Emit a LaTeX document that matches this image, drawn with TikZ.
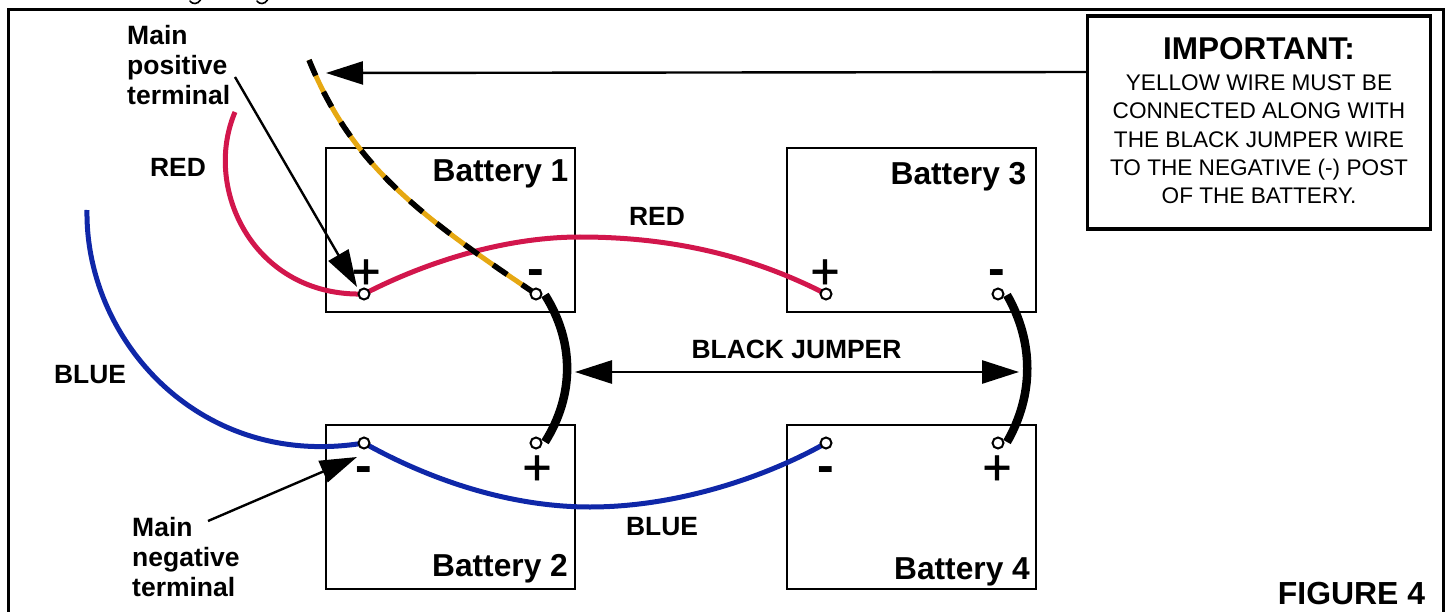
\documentclass[tikz,border=0pt]{standalone}
\usepackage{fontspec}
\setmainfont{Liberation Sans}
\newfontfamily\plusfont[FakeBold=1.2]{Liberation Sans}
\usetikzlibrary{arrows.meta,calc}
\definecolor{wred}{HTML}{D2164C}
\definecolor{wblue}{HTML}{0F27A8}
\definecolor{wyellow}{HTML}{E6A812}
\newcommand{\fsz}[2]{\fontsize{#1}{#2}\selectfont}
\tikzset{
  x=1pt,y=-1pt,
  battery/.style={draw=black,line width=1.8pt,minimum width=249pt,minimum height=164pt,inner sep=0pt},
  batlabel/.style={inner sep=0pt,font=\fsz{31.7}{36}\bfseries},
  wirelabel/.style={inner sep=0pt,font=\fsz{26.4}{30}\bfseries},
  sidelabel/.style={inner sep=0pt,anchor=north west,align=left,font=\fsz{26.5}{30.2}\bfseries},
  polarity/.style={inner sep=0pt,font=\fsz{50}{50}\bfseries},
  plusmark/.style={inner sep=0pt,font=\fsz{50}{50}\plusfont},
  terminal/.style={circle,draw=black,fill=white,line width=2pt,minimum size=11pt,inner sep=0pt},
  redwire/.style={draw=wred,line width=5pt},
  bluewire/.style={draw=wblue,line width=5pt},
  blackwire/.style={draw=black,line width=8.5pt},
  leader/.style={draw=black,line width=2.4pt,-{Triangle[length=37pt,width=23pt]}},
  notebox/.style={draw=black,line width=3.4pt,fill=white,minimum width=343pt,minimum height=213pt,inner sep=0pt,align=center,font=\fsz{22.6}{28.2}},
}
\begin{document}
\begin{tikzpicture}
\useasboundingbox (0,0) rectangle (1447,612);
% frame
\draw[line width=3pt,line join=miter] (8,612) -- (8,10) -- (1443,10) -- (1443,612);
% cropped line of text above the frame
\draw[line width=1.6pt,line cap=round] (190,1) .. controls (192,4.5) and (198,4.5) .. (200.5,0);
\draw[line width=1.6pt,line cap=round] (257,1) .. controls (259,4.5) and (265,4.5) .. (267.5,0);
% batteries
\node[battery] (bat1) at (450.5,230) {};
\node[battery] (bat3) at (911.5,230) {};
\node[battery] (bat2) at (450.5,507) {};
\node[battery] (bat4) at (911.5,507) {};
\node[batlabel] (lab1) at (500.5,174) {Battery 1};
\node[batlabel] (lab3) at (958.5,177) {Battery 3};
\node[batlabel] (lab2) at (500,569) {Battery 2};
\node[batlabel] (lab4) at (962,572) {Battery 4};
% polarity
\node[plusmark] (p1) at (366,274) {+};
\node[polarity] (m1) at (536,278) {-};
\node[plusmark] (p3) at (825,274) {+};
\node[polarity] (m3) at (997,278) {-};
\node[polarity] (m2) at (364,475) {-};
\node[plusmark] (p2) at (537,470) {+};
\node[polarity] (m4) at (826,475) {-};
\node[plusmark] (p4) at (997,470) {+};
% terminals and free ends
\coordinate (redend) at (235,112);
\coordinate (blueend) at (87,210);
\coordinate (yelend) at (309,60);
\coordinate (t1p) at (364,294);
\coordinate (t1m) at (536,294);
\coordinate (t3p) at (826,294);
\coordinate (t3m) at (998,294);
\coordinate (t2m) at (364,443);
\coordinate (t2p) at (536,443);
\coordinate (t4m) at (826,443);
\coordinate (t4p) at (998,443);
\coordinate (j1a) at (545,295);
\coordinate (j1b) at (545,442);
\coordinate (j2a) at (1007,295);
\coordinate (j2b) at (1007,442);
\coordinate (redtop) at (580,237);
\coordinate (bluelow) at (590,507);
% wires
\draw[redwire] (redend) .. controls (202,190) and (255,297) .. (t1p);
\draw[redwire] (t1p) .. controls (420,265) and (500,237) .. (redtop) .. controls (670,237) and (750,255) .. (t3p);
\draw[bluewire] (blueend) .. controls (85,340) and (200,470) .. (t2m);
\draw[bluewire] (t2m) .. controls (430,480) and (510,507) .. (bluelow) .. controls (680,507) and (770,475) .. (t4m);
\draw[blackwire] (j1a) .. controls (574.5,342) and (574.5,395) .. (j1b);
\draw[blackwire] (j2a) .. controls (1034,342) and (1034,395) .. (j2b);
\draw[draw=wyellow,line width=5pt] (yelend) .. controls (350,160) and (410,210) .. (t1m);
\draw[draw=black,line width=5.5pt,dash pattern=on 17pt off 18pt] (yelend) .. controls (350,160) and (410,210) .. (t1m);
\node[terminal] (n1p) at (t1p) {};
\node[terminal] (n1m) at (t1m) {};
\node[terminal] (n3p) at (t3p) {};
\node[terminal] (n3m) at (t3m) {};
\node[terminal] (n2m) at (t2m) {};
\node[terminal] (n2p) at (t2p) {};
\node[terminal] (n4m) at (t4m) {};
\node[terminal] (n4p) at (t4p) {};
% wire labels
\node[wirelabel] (redA) at (178,167.5) {RED};
\node[wirelabel] (redB) at (657,216.5) {RED};
\node[wirelabel] (blueA) at (90,374.5) {BLUE};
\node[wirelabel] (blueB) at (662,526.5) {BLUE};
\node[wirelabel] (jump) at (796.5,349.5) {BLACK JUMPER};
\node[sidelabel] (mainpos) at (127,25) {Main\\positive\\terminal};
\node[sidelabel] (mainneg) at (132,517) {Main\\negative\\terminal};
\node[inner sep=0pt,font=\fsz{31.9}{36}\bfseries] (fig) at (1351.5,594) {FIGURE 4};
% note
\node[notebox] (note) at (1259,122.5) {{\fsz{31.5}{36}\bfseries IMPORTANT:}\\[3pt]YELLOW WIRE MUST BE\\CONNECTED ALONG WITH\\THE BLACK JUMPER WIRE\\TO THE NEGATIVE (-) POST\\OF THE BATTERY.\rule[-4pt]{0pt}{4pt}};
% leaders
\coordinate (noteout) at (note.west |- 0,72);
\coordinate (yeltip) at (326,73);
\coordinate (posfrom) at (235,77);
\coordinate (postip) at (357,287);
\coordinate (negfrom) at (208,521);
\coordinate (negtip) at (357,457);
\coordinate (jl) at (575,372);
\coordinate (jr) at (1019,372);
\draw[leader] (noteout) -- (yeltip);
\draw[leader] (posfrom) -- (postip);
\draw[leader] (negfrom) -- (negtip);
\draw[leader,{Triangle[length=37pt,width=23pt]}-{Triangle[length=37pt,width=23pt]},line width=2.8pt] (jl) -- (jr);
\end{tikzpicture}
\end{document}
